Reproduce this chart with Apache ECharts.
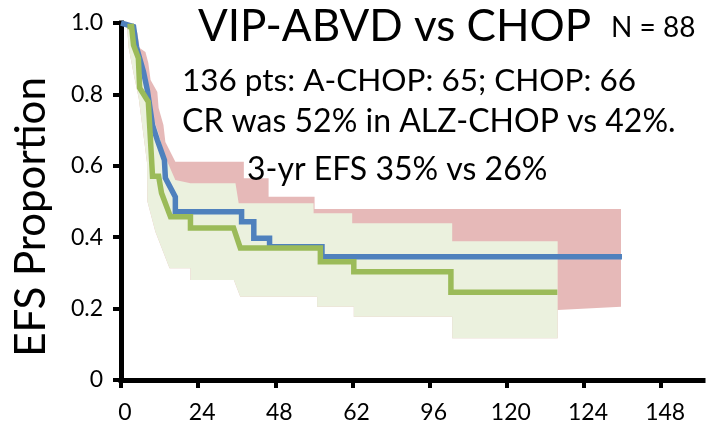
<!DOCTYPE html>
<html>
<head>
<meta charset="utf-8">
<script src="https://cdn.jsdelivr.net/npm/echarts@6/dist/echarts.min.js"></script>
<style>
  html, body { margin: 0; padding: 0; background: #ffffff; }
  #chart { width: 707px; height: 429px; }
</style>
</head>
<body>
<div id="chart"></div>
<script>
// Tick labels along the time axis (one label every 24 axis units)
const xTickValues = [0, 24, 48, 72, 96, 120, 144, 168];
const xTickLabels = ['0', '24', '48', '62', '96', '120', '124', '148'];
const yTickLabels = ['0', '0.2', '0.4', '0.6', '0.8', '1.0'];

// Event-free survival step curves: [time, proportion]
const vipAbvdCurve = [
  [0, 1.0], [3.9, 0.99], [4.8, 0.933], [7.0, 0.863], [8.2, 0.812], [9.8, 0.714],
  [11.3, 0.672], [13.5, 0.616], [13.8, 0.566], [16.9, 0.513], [16.9, 0.471],
  [37.5, 0.471], [37.5, 0.443], [41.3, 0.443], [41.3, 0.397], [46.2, 0.397],
  [46.2, 0.373], [62.5, 0.373], [62.5, 0.345], [155.8, 0.345]
];
const chopCurve = [
  [2.0, 0.99], [3.3, 0.99], [3.9, 0.938], [5.4, 0.902], [5.8, 0.818], [8.5, 0.779],
  [9.8, 0.571], [11.7, 0.571], [12.6, 0.524], [15.4, 0.457], [21.6, 0.457],
  [21.6, 0.426], [35.0, 0.426], [37.1, 0.370], [62.0, 0.370], [62.0, 0.331],
  [72.4, 0.331], [72.4, 0.303], [102.6, 0.303], [102.6, 0.246], [135.7, 0.246]
];

// Confidence band of the VIP-ABVD curve
const vipAbvdUpper = [
  [0, 1.0], [3.9, 1.0], [5.1, 0.972], [5.8, 0.930], [7.6, 0.919], [8.5, 0.888],
  [9.2, 0.840], [11.3, 0.807], [11.7, 0.762], [13.2, 0.714], [13.8, 0.667],
  [16.9, 0.611], [38.2, 0.611], [38.2, 0.565], [45.9, 0.565], [45.9, 0.513],
  [60.2, 0.513], [60.2, 0.479], [155.5, 0.479]
];
const vipAbvdLower = [
  [0, 1.0], [1.9, 0.986], [2.4, 0.930], [4.0, 0.854], [5.5, 0.790], [8.1, 0.608],
  [8.2, 0.501], [10.7, 0.415], [15.1, 0.313], [21.6, 0.313], [21.6, 0.280],
  [35.1, 0.280], [37.1, 0.233], [61.0, 0.233], [61.0, 0.205], [72.4, 0.205],
  [72.4, 0.177], [103.0, 0.177], [103.0, 0.117], [135.8, 0.117], [135.8, 0.196],
  [155.5, 0.205]
];

// Confidence band of the CHOP curve
const chopUpper = [
  [0, 1.0], [3.9, 1.0], [4.8, 0.933], [7.0, 0.863], [8.2, 0.812], [9.8, 0.74],
  [11.7, 0.69], [13.5, 0.63], [16.9, 0.56], [21.6, 0.551],
  [35.6, 0.551], [36.6, 0.495], [59.9, 0.495], [59.9, 0.467], [71.9, 0.467],
  [71.9, 0.439], [103.0, 0.439], [103.0, 0.389], [135.8, 0.389]
];
const chopLower = [
  [0, 1.0], [1.9, 0.986], [2.4, 0.930], [4.0, 0.854], [5.5, 0.790], [8.1, 0.608],
  [8.2, 0.501], [10.7, 0.415], [15.1, 0.313], [21.6, 0.313], [21.6, 0.280],
  [35.1, 0.280], [37.1, 0.233], [61.0, 0.233], [61.0, 0.205], [72.4, 0.205],
  [72.4, 0.177], [103.0, 0.177], [103.0, 0.117], [135.8, 0.117]
];

const FONT = 'Lato, "Open Sans", sans-serif';

// Filled polygon between an upper and a lower boundary, in data coordinates
function bandSeries(name, upper, lower, color, z) {
  return {
    type: 'custom',
    name: name,
    silent: true,
    z: z,
    clip: false,
    data: [[0, 0]],
    encode: { x: 0, y: 1 },
    renderItem: function (params, api) {
      const pts = upper.map(function (p) { return api.coord(p); })
        .concat(lower.slice().reverse().map(function (p) { return api.coord(p); }));
      return { type: 'polygon', shape: { points: pts }, style: { fill: color } };
    }
  };
}

function curveSeries(name, data, color, z) {
  return {
    type: 'line',
    name: name,
    data: data,
    z: z,
    showSymbol: false,
    symbol: 'none',
    silent: true,
    lineStyle: { color: color, width: 5.5, join: 'miter' }
  };
}

const chart = echarts.init(document.getElementById('chart'), null, { renderer: 'canvas' });

chart.setOption({
  animation: false,
  backgroundColor: '#ffffff',
  grid: { left: 121, right: 4, top: 23, bottom: 49, outerBoundsMode: 'none' },
  xAxis: {
    type: 'value',
    min: 0,
    max: 181,
    interval: 24,
    axisLine: { show: true, onZero: false, lineStyle: { color: '#000', width: 5, cap: 'square' } },
    axisTick: { show: true, length: 8, customValues: xTickValues, lineStyle: { color: '#000', width: 4 } },
    axisLabel: {
      customValues: xTickValues,
      formatter: function (v) { return xTickLabels[Math.round(v / 24)]; },
      fontSize: 23, fontFamily: FONT, color: '#000', margin: 21,
      padding: [0, 0, 0, 8]
    },
    splitLine: { show: false }
  },
  yAxis: {
    type: 'value',
    min: 0,
    max: 1,
    interval: 0.2,
    axisLine: { show: true, onZero: false, lineStyle: { color: '#000', width: 5, cap: 'square' } },
    axisTick: { show: true, length: 8, lineStyle: { color: '#000', width: 4 } },
    axisLabel: {
      formatter: function (v) { return yTickLabels[Math.round(v / 0.2)]; },
      fontSize: 23, fontFamily: FONT, color: '#000', margin: 18
    },
    splitLine: { show: false }
  },
  series: [
    bandSeries('VIP-ABVD CI', vipAbvdUpper, vipAbvdLower, '#e6b9b8', 1),
    bandSeries('CHOP CI', chopUpper, chopLower, '#ebf1de', 2),
    curveSeries('VIP-ABVD', vipAbvdCurve, '#4f81bd', 3),
    curveSeries('CHOP', chopCurve, '#9bbb59', 4)
  ],
  graphic: [
    { type: 'text', x: 31, y: 217, rotation: Math.PI / 2, z: 10,
      style: { text: 'EFS Proportion', font: '42px ' + FONT, fill: '#000', align: 'center', verticalAlign: 'middle' } },
    { type: 'text', x: 198, y: 27, z: 10,
      style: { text: 'VIP-ABVD vs CHOP', font: '44px ' + FONT, fill: '#000', align: 'left', verticalAlign: 'middle' } },
    { type: 'text', x: 611, y: 28, z: 10,
      style: { text: 'N = 88', font: '28px ' + FONT, fill: '#000', align: 'left', verticalAlign: 'middle' } },
    { type: 'text', x: 182, y: 81, z: 10,
      style: { text: '136 pts: A-CHOP: 65; CHOP: 66', font: '31.5px ' + FONT, fill: '#000', align: 'left', verticalAlign: 'middle' } },
    { type: 'text', x: 182, y: 122, z: 10,
      style: { text: 'CR was 52% in ALZ-CHOP vs 42%.', font: '32px ' + FONT, fill: '#000', align: 'left', verticalAlign: 'middle' } },
    { type: 'text', x: 247, y: 170, z: 10,
      style: { text: '3-yr EFS 35% vs 26%', font: '32px ' + FONT, fill: '#000', align: 'left', verticalAlign: 'middle' } }
  ]
});
</script>
</body>
</html>
